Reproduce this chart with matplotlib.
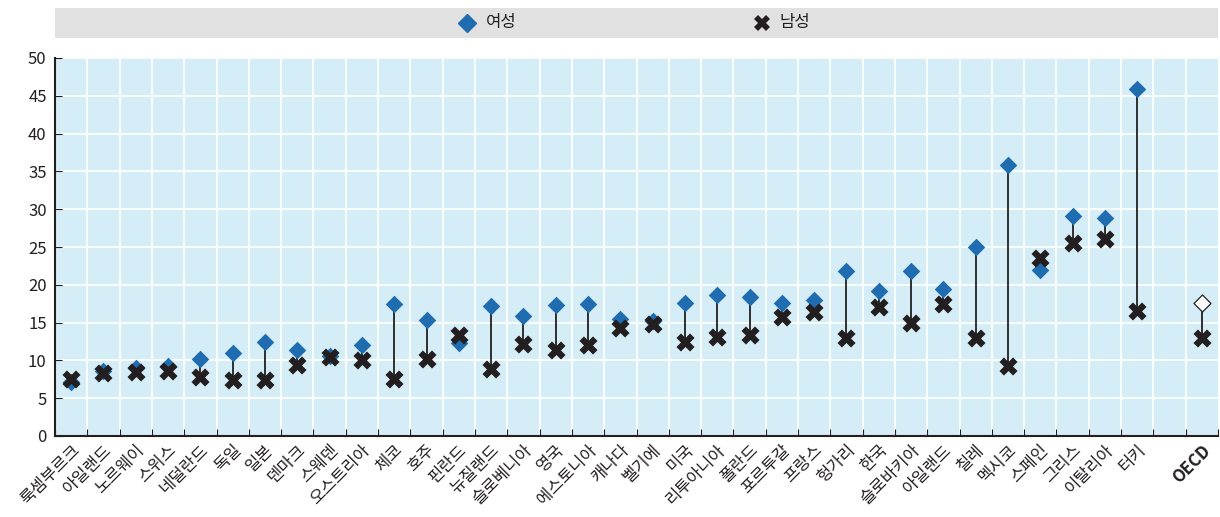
import matplotlib
matplotlib.use("Agg")
import matplotlib.pyplot as plt
from matplotlib.patches import Rectangle
from matplotlib.lines import Line2D

plt.rcParams['font.family'] = ['Noto Sans CJK KR', 'DejaVu Sans']

countries = ["룩셈부르크", "아일랜드", "노르웨이", "스위스", "네덜란드", "독일", "일본", "덴마크",
             "스웨덴", "오스트리아", "체코", "호주", "핀란드", "뉴질랜드", "슬로베니아", "영국",
             "에스토니아", "캐나다", "벨기에", "미국", "리투아니아", "폴란드", "포르투갈", "프랑스",
             "헝가리", "한국", "슬로바키아", "아일랜드", "칠레", "멕시코", "스페인", "그리스",
             "이탈리아", "터키"]
female = [7.2, 8.6, 9.0, 9.3, 10.2, 11.0, 12.4, 11.4, 10.6, 12.0, 17.4, 15.3, 12.3, 17.2,
          15.9, 17.3, 17.4, 15.5, 15.2, 17.6, 18.6, 18.4, 17.6, 18.0, 21.8, 19.2, 21.8, 19.4,
          25.0, 35.8, 21.9, 29.1, 28.9, 45.9]
male = [7.5, 8.3, 8.5, 8.6, 7.8, 7.4, 7.4, 9.4, 10.4, 10.1, 7.5, 10.2, 13.3, 8.8, 12.2,
        11.4, 12.0, 14.3, 14.8, 12.5, 13.1, 13.4, 15.8, 16.4, 12.9, 17.1, 15.0, 17.4, 13.0,
        9.3, 23.5, 25.5, 26.1, 16.6]
oecd_label = "OECD"
oecd_female = 17.6
oecd_male = 13.0

labels = countries + ["", oecd_label]
n = len(labels)
xs = list(range(len(countries)))
x_oecd = n - 1

blue = "#1f6db0"
dark = "#231f20"
bg = "#d5edf7"

fig = plt.figure(figsize=(12.2, 5.17), dpi=100)
ax = fig.add_axes([55/1220, 1-436/517, (1218-55)/1220, (436-58)/517])
ax.set_facecolor(bg)

# connecting lines
for x, f, m in zip(xs, female, male):
    ax.plot([x, x], [f, m], color=dark, lw=1.3, zorder=2)
ax.plot([x_oecd, x_oecd], [oecd_female, oecd_male], color=dark, lw=1.3, zorder=2)

ax.scatter(xs, female, marker='D', s=80, color=blue, zorder=3, linewidths=0)
ax.scatter([x_oecd], [oecd_female], marker='D', s=75, facecolor='white', edgecolor=dark,
           linewidths=0.9, zorder=3)
ax.scatter(xs, male, marker='X', s=170, color=dark, zorder=4, linewidths=0)
ax.scatter([x_oecd], [oecd_male], marker='X', s=170, color=dark, zorder=4, linewidths=0)

ax.set_xlim(-0.5, n - 0.5)
ax.set_ylim(0, 50)
ax.set_yticks(range(0, 51, 5))
ax.tick_params(axis='y', labelsize=12, direction='in', length=5, color=dark, pad=6,
               labelcolor=dark)
ax.set_xticks([i + 0.5 for i in range(-1, n)], minor=False)
ax.set_xticklabels([])
ax.tick_params(axis='x', direction='in', length=5, color=dark)
ax.set_xticks(range(n), minor=True)
ax.set_xticklabels(labels, minor=True, rotation=45, ha='right', va='top',
                   rotation_mode='anchor', fontsize=12, color=dark)
ax.tick_params(axis='x', which='minor', length=0, pad=4)
for t in ax.get_xticklabels(minor=True):
    if t.get_text() == oecd_label:
        t.set_fontweight('bold')

for y in range(5, 51, 5):
    ax.axhline(y, color='white', lw=1.3, zorder=1)
for i in range(n - 1):
    ax.axvline(i + 0.5, color='white', lw=1.3, zorder=1)

for s in ['top', 'right']:
    ax.spines[s].set_visible(False)
for s in ['left', 'bottom']:
    ax.spines[s].set_color(dark)
    ax.spines[s].set_linewidth(1.5)

# legend band
fig.patches.append(Rectangle((55/1220, 1-38/517), (1218-55)/1220, 30/517,
                             transform=fig.transFigure, facecolor="#e1e1e1",
                             edgecolor='none', zorder=0))
ly = 1 - 23/517
fig.add_artist(Line2D([467/1220], [ly], marker='D', markersize=9, color=blue,
                      linestyle='none', transform=fig.transFigure))
fig.text(486/1220, ly, "여성", fontsize=12, va='center', ha='left', color=dark)
fig.add_artist(Line2D([762/1220], [ly], marker='X', markersize=11, color=dark,
                      markeredgewidth=0, linestyle='none', transform=fig.transFigure))
fig.text(779/1220, ly, "남성", fontsize=12, va='center', ha='left', color=dark)

fig.savefig("out.png", dpi=100)
